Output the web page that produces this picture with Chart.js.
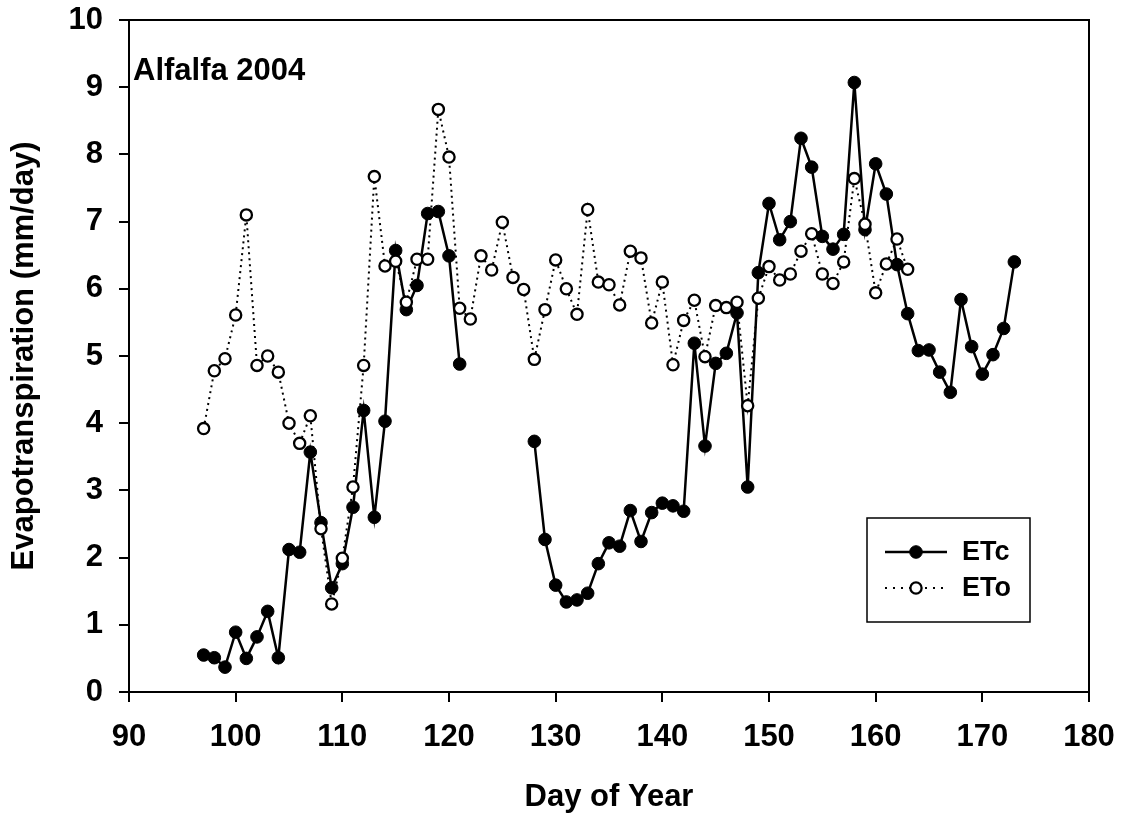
<!DOCTYPE html>
<html>
<head>
<meta charset="utf-8">
<script src="https://cdn.jsdelivr.net/npm/chart.js@4.4.1/dist/chart.umd.min.js"></script>
<style>
html,body{margin:0;padding:0;background:#fff;}
canvas{display:block;}
</style>
</head>
<body>
<canvas id="c" width="1123" height="822"></canvas>
<script>
// ---- data ----
const days = [97,98,99,100,101,102,103,104,105,106,107,108,109,110,111,112,113,114,115,116,117,118,119,120,121,122,123,124,125,126,127,128,129,130,131,132,133,134,135,136,137,138,139,140,141,142,143,144,145,146,147,148,149,150,151,152,153,154,155,156,157,158,159,160,161,162,163,164,165,166,167,168,169,170,171,172,173];
const etcValues = [0.55,0.51,0.37,0.89,0.50,0.82,1.20,0.51,2.12,2.08,3.57,2.52,1.55,1.91,2.75,4.19,2.60,4.03,6.57,5.69,6.05,7.12,7.15,6.49,4.88,
  null,null,null,null,null,null,
  3.73,2.27,1.59,1.34,1.37,1.47,1.91,2.22,2.17,2.70,2.24,2.67,2.81,2.77,2.69,5.19,3.66,4.89,5.04,5.64,3.05,6.24,7.27,6.73,7.00,8.24,7.81,6.78,6.59,6.81,9.07,6.88,7.86,7.41,6.36,5.63,5.08,5.09,4.76,4.46,5.84,5.14,4.73,5.02,5.41,6.40];
const etoValues = [3.92,4.78,4.96,5.61,7.10,4.86,5.00,4.76,4.00,3.70,4.11,2.43,1.31,1.99,3.05,4.86,7.67,6.34,6.41,5.80,6.44,6.44,8.67,7.96,5.71,5.55,6.49,6.28,6.99,6.17,5.99,4.95,5.69,6.43,6.00,5.62,7.18,6.10,6.06,5.76,6.56,6.46,5.49,6.10,4.87,5.53,5.83,4.99,5.75,5.72,5.80,4.26,5.86,6.33,6.13,6.22,6.56,6.82,6.22,6.08,6.40,7.64,6.96,5.94,6.37,6.74,6.29,
  null,null,null,null,null,null,null,null,null,null];
const xTicks = [90,100,110,120,130,140,150,160,170,180];
const yTicks = [0,1,2,3,4,5,6,7,8,9,10];
const seriesNames = ['ETc','ETo'];
const panelLabel = 'Alfalfa 2004';
const xTitle = 'Day of Year';
const yTitle = 'Evapotranspiration (mm/day)';

const FAMILY = '"Liberation Sans", Arial, Helvetica, sans-serif';
const toPoints = vals => days.map((d, i) => ({x: d, y: vals[i]}));

const etcStyle = {borderColor:'#000', borderWidth:2.5, pointRadius:6.3, pointBackgroundColor:'#000', pointBorderColor:'#000', pointBorderWidth:1, borderDash:[]};
const etoStyle = {borderColor:'#000', borderWidth:2, pointRadius:5.6, pointBackgroundColor:'#fff', pointBorderColor:'#000', pointBorderWidth:2.3, borderDash:[2,4]};

const framePlugin = {
  id: 'frame',
  afterDraw(chart) {
    const {ctx, chartArea: a} = chart;
    ctx.save();
    ctx.strokeStyle = '#000';
    ctx.lineWidth = 2;
    ctx.beginPath();
    ctx.moveTo(a.left, a.top);
    ctx.lineTo(a.right, a.top);
    ctx.lineTo(a.right, a.bottom);
    ctx.stroke();
    // panel label
    ctx.fillStyle = '#000';
    ctx.font = 'bold 31px ' + FAMILY;
    ctx.textAlign = 'left';
    ctx.textBaseline = 'alphabetic';
    ctx.fillText(panelLabel, a.left + 4, 80);
    // legend
    const bx = 867, by = 518, bw = 163, bh = 104;
    ctx.fillStyle = '#fff';
    ctx.fillRect(bx, by, bw, bh);
    ctx.lineWidth = 1.5;
    ctx.strokeRect(bx, by, bw, bh);
    const rows = [
      {name: seriesNames[0], st: etcStyle, y: 552, dash: []},
      {name: seriesNames[1], st: etoStyle, y: 588, dash: [2,6]}
    ];
    rows.forEach(r => {
      ctx.setLineDash(r.dash);
      ctx.lineWidth = r.st.borderWidth;
      ctx.strokeStyle = '#000';
      ctx.beginPath();
      ctx.moveTo(885, r.y);
      ctx.lineTo(947, r.y);
      ctx.stroke();
      ctx.setLineDash([]);
      ctx.beginPath();
      ctx.arc(916, r.y, r.st.pointRadius, 0, Math.PI * 2);
      ctx.fillStyle = r.st.pointBackgroundColor;
      ctx.fill();
      ctx.lineWidth = r.st.pointBorderWidth;
      ctx.stroke();
      ctx.fillStyle = '#000';
      ctx.font = 'bold 27px ' + FAMILY;
      ctx.textBaseline = 'middle';
      ctx.fillText(r.name, 962, r.y + 1);
    });
    ctx.restore();
  }
};

const tickFont = {family: FAMILY, size: 31, weight: 'bold'};

new Chart(document.getElementById('c'), {
  type: 'line',
  data: {
    datasets: [
      Object.assign({label: seriesNames[0], data: toPoints(etcValues), order: 1, tension: 0, spanGaps: false}, etcStyle),
      Object.assign({label: seriesNames[1], data: toPoints(etoValues), order: 0, tension: 0, spanGaps: false}, etoStyle)
    ]
  },
  options: {
    responsive: false,
    animation: false,
    devicePixelRatio: 1,
    layout: {padding: {left: 0, top: 20, right: 34, bottom: 0}},
    plugins: {legend: {display: false}, tooltip: {enabled: false}},
    scales: {
      x: {
        type: 'linear', min: 90, max: 180,
        afterBuildTicks: s => { s.ticks = xTicks.map(v => ({value: v})); },
        afterFit: s => { s.height = 130; s.paddingLeft = 0; s.paddingRight = 0; },
        grid: {display: true, drawOnChartArea: false, drawTicks: true, tickLength: 10, color: '#000', lineWidth: 2},
        border: {display: true, color: '#000', width: 2},
        ticks: {color: '#000', font: tickFont, padding: 17, maxRotation: 0, autoSkip: false},
        title: {display: true, text: xTitle, color: '#000', font: tickFont, padding: {top: 0, bottom: 6}}
      },
      y: {
        type: 'linear', min: 0, max: 10,
        afterBuildTicks: s => { s.ticks = yTicks.map(v => ({value: v})); },
        afterFit: s => { s.width = 129; s.paddingTop = 0; s.paddingBottom = 0; },
        grid: {display: true, drawOnChartArea: false, drawTicks: true, tickLength: 10, color: '#000', lineWidth: 2},
        border: {display: true, color: '#000', width: 2},
        ticks: {color: '#000', font: tickFont, padding: 16, autoSkip: false},
        title: {display: true, text: yTitle, color: '#000', font: tickFont, padding: {top: 6, bottom: 0}}
      }
    }
  },
  plugins: [framePlugin]
});
</script>
</body>
</html>
